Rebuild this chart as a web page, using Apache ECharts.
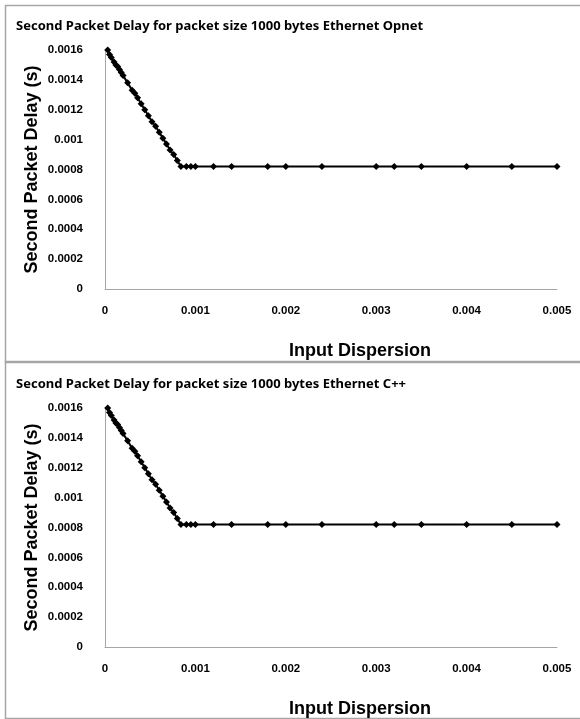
<!DOCTYPE html>
<html>
<head>
<meta charset="utf-8">
<script src="https://cdn.jsdelivr.net/npm/echarts@6/dist/echarts.min.js"></script>
<style>
  html, body { margin: 0; padding: 0; background: #fff; }
  #chart { width: 580px; height: 719px; }
</style>
</head>
<body>
<div id="chart"></div>
<script>
// input dispersion (s) -- same sweep for both runs
const dispersion = [0.00003, 0.00005, 0.00007, 0.0001, 0.00012, 0.00014, 0.00016, 0.00018, 0.0002,
  0.00025, 0.0003, 0.00033, 0.00036, 0.0004, 0.00044, 0.00048, 0.00052, 0.00056, 0.0006,
  0.00064, 0.00068, 0.00072, 0.00076, 0.0008, 0.00084, 0.0009, 0.00095, 0.001, 0.0012,
  0.0014, 0.0018, 0.002, 0.0024, 0.003, 0.0032, 0.0035, 0.004, 0.0045, 0.005]

// second packet delay (s)
const delayOpnet = [0.0016, 0.00157, 0.00155, 0.00152, 0.0015, 0.00149, 0.00147, 0.00145, 0.00143,
  0.00138, 0.00133, 0.00131, 0.00128, 0.00124, 0.0012, 0.00116, 0.00112, 0.00109, 0.00105,
  0.00101, 0.00097, 0.00093, 0.0009, 0.00086, 0.00082, 0.00082, 0.00082, 0.00082, 0.00082,
  0.00082, 0.00082, 0.00082, 0.00082, 0.00082, 0.00082, 0.00082, 0.00082, 0.00082, 0.00082]
const delayCpp = [0.0016, 0.00157, 0.00155, 0.00152, 0.0015, 0.00149, 0.00147, 0.00145, 0.00143,
  0.00138, 0.00133, 0.00131, 0.00128, 0.00124, 0.0012, 0.00116, 0.00112, 0.00109, 0.00105,
  0.00101, 0.00097, 0.00093, 0.0009, 0.00086, 0.00082, 0.00082, 0.00082, 0.00082, 0.00082,
  0.00082, 0.00082, 0.00082, 0.00082, 0.00082, 0.00082, 0.00082, 0.00082, 0.00082, 0.00082]

const titles = [
  'Second Packet Delay for packet size 1000 bytes Ethernet Opnet',
  'Second Packet Delay for packet size 1000 bytes Ethernet C++'
]

const chart = echarts.init(document.getElementById('chart'))

const panelTop = [0, 358] // offset of each panel
const labelFont = { fontFamily: 'Liberation Sans, Arial', fontWeight: 'bold', fontSize: 11.5, color: '#000' }

function pairs(xs, ys) {
  return xs.map((x, i) => [x, ys[i]])
}

chart.setOption({
  animation: false,
  title: titles.map((t, i) => ({
    text: t,
    left: 11,
    top: 15 + panelTop[i],
    textStyle: { fontFamily: 'Noto Sans', fontWeight: 'bold', fontSize: 13, color: '#000' }
  })),
  graphic: [0, 1].map(i => ({
    type: 'rect',
    shape: { x: 5.5, y: 5.5 + (i ? 356 : 0), width: 580, height: 357 },
    style: { fill: null, stroke: '#a6a6a6', lineWidth: 1.5 },
    silent: true
  })),
  grid: [0, 1].map(i => ({
    left: 105,
    top: 50 + panelTop[i],
    width: 452,
    height: 239,
    containLabel: false,
    outerBoundsMode: 'none'
  })),
  xAxis: [0, 1].map(i => ({
    type: 'value',
    gridIndex: i,
    min: 0,
    max: 0.005,
    interval: 0.001,
    name: 'Input Dispersion',
    nameLocation: 'middle',
    nameGap: 53,
    nameTextStyle: { fontFamily: 'Liberation Sans, Arial', fontWeight: 'bold', fontSize: 18, color: '#000', padding: [0, 0, 0, 58] },
    axisLine: { show: true, lineStyle: { color: '#a6a6a6', width: 1 } },
    axisTick: { show: false },
    splitLine: { show: false },
    axisLabel: Object.assign({ margin: 16 }, labelFont)
  })),
  yAxis: [0, 1].map(i => ({
    type: 'value',
    gridIndex: i,
    min: 0,
    max: 0.0016,
    interval: 0.0002,
    name: 'Second Packet Delay (s)',
    nameLocation: 'middle',
    nameGap: 64,
    nameMoveOverlap: false,
    nameTextStyle: { fontFamily: 'Liberation Sans, Arial', fontWeight: 'bold', fontSize: 18, color: '#000', padding: [0, 0, 0, 0] },
    axisLine: { show: true, lineStyle: { color: '#a6a6a6', width: 1 } },
    axisTick: { show: false },
    splitLine: { show: false },
    axisLabel: Object.assign({ margin: 22 }, labelFont)
  })),
  series: [
    {
      type: 'line',
      xAxisIndex: 0,
      yAxisIndex: 0,
      data: pairs(dispersion, delayOpnet),
      symbol: 'diamond',
      symbolSize: 7,
      itemStyle: { color: '#000' },
      lineStyle: { color: '#000', width: 2 }
    },
    {
      type: 'line',
      xAxisIndex: 1,
      yAxisIndex: 1,
      data: pairs(dispersion, delayCpp),
      symbol: 'diamond',
      symbolSize: 7,
      itemStyle: { color: '#000' },
      lineStyle: { color: '#000', width: 2 }
    }
  ]
})
</script>
</body>
</html>
